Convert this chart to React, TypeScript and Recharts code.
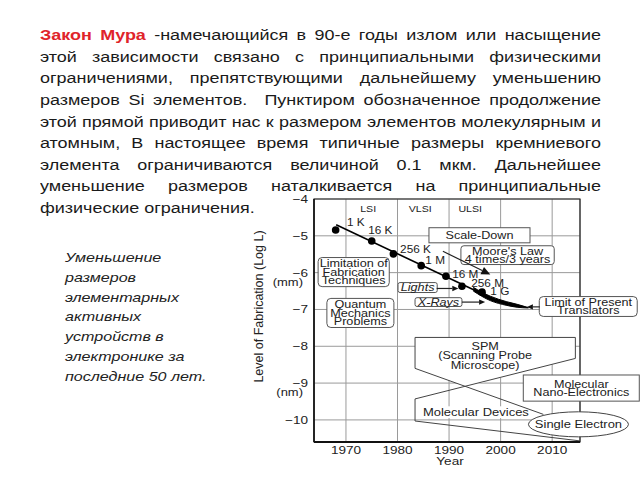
import React from 'react';
import {
  ComposedChart,
  Line,
  Area,
  Scatter,
  XAxis,
  YAxis,
  CartesianGrid,
  ReferenceArea,
  ReferenceLine,
  ReferenceDot,
} from 'recharts';

const FONT = '"Liberation Sans", Arial, sans-serif';
const SX = 1.18; // the slide is stretched sideways a bit

// memory generations on the curve
const chipNames = ['1 K', '16 K', '256 K', '1 M', '16 M', '256 M', '1 G'];
const chipYears = [1968, 1975, 1979.2, 1984.6, 1989.4, 1992.5, 1996.4];
const chipLevels = [-4.84, -5.14, -5.49, -5.81, -6.1, -6.37, -6.53];
const chipNameYears = [1970.2, 1974.3, 1980.5, 1985.4, 1990.6, 1994.3, 1998];
const chipNameLevels = [-4.65, -4.86, -5.38, -5.68, -6.05, -6.3, -6.51];

// integration eras
const eraNames = ['LSI', 'VLSI', 'ULSI'];
const eraYears = [1974.3, 1984.4, 1994.1];
const eraLevel = -4.27;

// trend line and the saturation wedge
const trendYears = [1968.1, 1996.5];
const trendLevels = [-4.7, -6.58];
const wedgeYears = [1994.7, 1998.0, 2001.2, 2003.2, 2005.4];
const wedgeLow = [-6.5, -6.76, -6.89, -6.94, -6.96];
const wedgeHigh = [-6.4, -6.64, -6.79, -6.86, -6.95];

// SPM / molecular devices outline
const outlineYears = [1983.4, 1983.4, 2014.5, 2014.5, 1983.4, 1983.4, 2015.4];
const outlineLevels = [-8.6, -7.76, -7.76, -8.33, -9.43, -10.03, -10.57];
const crossYears = [1983.4, 2008.3];
const crossLevels = [-8.6, -9.85];
const spmYears = [1983.4, 1993.4, 2014.5];
const spmLow = [-8.6, -9.1, -8.33];
const spmHigh = [-7.76, -7.76, -7.76];

const xTicks = [1970, 1980, 1990, 2000, 2010];
const yTicks = [-10, -9, -8, -7, -6, -5, -4];

type Box = {
  x1: number; x2: number; y1: number; y2: number;
  lines: string[];
  kind?: 'rect' | 'ellipse' | 'text' | 'plain';
  r?: number; italic?: boolean; size?: number; step?: number;
};

const boxes: Box[] = [
  { x1: 1986.1, x2: 2005.7, y1: -5.19, y2: -4.78, lines: ['Scale-Down'] },
  { x1: 1992.3, x2: 2010.4, y1: -5.78, y2: -5.27, lines: ["Moore's Law", '4 times/3 years'], r: 3 },
  { x1: 1964.6, x2: 1978.4, y1: -6.38, y2: -5.59, lines: ['Limitation of', 'Fabrication', 'Techniques'], r: 4 },
  { x1: 1966.3, x2: 1979.3, y1: -7.49, y2: -6.7, lines: ['Quantum', 'Mechanics', 'Problems'], r: 4 },
  { x1: 1980.1, x2: 1987.7, y1: -6.54, y2: -6.27, lines: ['Lights'], italic: true, r: 2 },
  { x1: 1983.4, x2: 1992.5, y1: -6.92, y2: -6.68, lines: ['X-Rays'], italic: true, r: 2 },
  { x1: 2007.5, x2: 2026.5, y1: -7.19, y2: -6.65, lines: ['Limit of Present', 'Translators'], r: 4 },
  { x1: 2004.4, x2: 2026.9, y1: -9.49, y2: -8.78, lines: ['Molecular', 'Nano-Electronics'] },
  { x1: 2005.4, x2: 2024.8, y1: -10.46, y2: -9.78, lines: ['Single Electron'], kind: 'ellipse', size: 11 },
  { x1: 1990, x2: 2004, y1: -8.5, y2: -8.0, lines: ['SPM', '(Scanning Probe', 'Microscope)'], kind: 'plain', step: 9.6 },
  { x1: 1985.2, x2: 2005.2, y1: -9.95, y2: -9.63, lines: ['Molecular Devices'], kind: 'text', size: 11 },
];

const arrows = [
  { from: [1988.8, -5.42], to: [1998.0, -6.05], head: 9 },
  { from: [1987.6, -6.43], to: [1991.8, -6.43], head: 6 },
  { from: [1992.5, -6.8], to: [1997.0, -6.8], head: 6 },
  { from: [2007.6, -6.93], to: [2005.1, -6.93], head: 6 },
];

const paragraph = [
  'этой зависимости связано с принципиальными физическими',
  'ограничениями, препятствующими дальнейшему уменьшению',
  'размеров Si элементов.  Пунктиром обозначенное продолжение',
  'этой прямой приводит нас к размером элементов молекулярным и',
  'атомным, В настоящее время типичные размеры кремниевого',
  'элемента ограничиваются величиной 0.1 мкм. Дальнейшее',
  'уменьшение размеров наталкивается на принципиальные',
  'физические ограничения.',
];
const sideNote = [
  'Уменьшение',
  'размеров',
  'элементарных',
  'активных',
  'устройств в',
  'электронике за',
  'последние 50 лет.',
];

const chipData = chipYears.map((x, i) => ({ x, y: chipLevels[i] }));
const chipNameData = chipNameYears.map((x, i) => ({ x, y: chipNameLevels[i], name: chipNames[i] }));
const eraData = eraYears.map((x, i) => ({ x, y: eraLevel, name: eraNames[i] }));
const trendData = trendYears.map((x, i) => ({ x, y: trendLevels[i] }));
const wedgeData = wedgeYears.map((x, i) => ({ x, lo: wedgeLow[i], hi: wedgeHigh[i] }));
const outlineData = outlineYears.map((x, i) => ({ x, y: outlineLevels[i] }));
const crossData = crossYears.map((x, i) => ({ x, y: crossLevels[i] }));
const spmData = spmYears.map((x, i) => ({ x, lo: spmLow[i], hi: spmHigh[i] }));

// stretched svg text, centred on y
const STxt = ({ x, y, lines, size = 10.7, step, anchor = 'middle', italic = false, color = '#222' }: any) => {
  const st = step ?? 8.4;
  const top = y - ((lines.length - 1) * st) / 2;
  return (
    <g transform={`translate(${x},${top}) scale(${SX},1)`}>
      {lines.map((t: string, i: number) => (
        <text
          key={i}
          x={0}
          y={i * st}
          dy={size * 0.35}
          textAnchor={anchor}
          fontSize={size}
          fontFamily={FONT}
          fontStyle={italic ? 'italic' : 'normal'}
          fill={color}
        >
          {t}
        </text>
      ))}
    </g>
  );
};

const BoxShape = ({ x, y, width, height, box }: any) => {
  const cx = x + width / 2;
  const cy = y + height / 2;
  let frame = null;
  if (box.kind === 'ellipse') {
    frame = <ellipse cx={cx} cy={cy} rx={width / 2} ry={height / 2} fill="#fff" stroke="#444" />;
  } else if (box.kind === 'text') {
    frame = <rect x={x} y={y} width={width} height={height} fill="#fff" />;
  } else if (box.kind !== 'plain') {
    frame = <rect x={x} y={y} width={width} height={height} rx={box.r ?? 0} fill="#fff" stroke="#555" />;
  }
  return (
    <g>
      {frame}
      <STxt x={cx} y={cy} lines={box.lines} italic={box.italic} size={box.size ?? 10.7} step={box.step} />
    </g>
  );
};

const ArrowShape = ({ x1, y1, x2, y2, head }: any) => {
  const a = Math.atan2(y2 - y1, x2 - x1);
  const c = Math.cos(a);
  const s = Math.sin(a);
  const w = head * 0.45;
  const bx = x2 - c * head;
  const by = y2 - s * head;
  const pts = `${x2},${y2} ${bx - s * w},${by + c * w} ${bx + s * w},${by - c * w}`;
  return (
    <g>
      <line x1={x1} y1={y1} x2={bx} y2={by} stroke="#222" strokeWidth={1.2} />
      <polygon points={pts} fill="#111" />
    </g>
  );
};

const XTick = ({ x, y, payload }: any) => (
  <STxt x={x} y={y} lines={[String(payload.value)]} size={11.5} />
);

const YTick = ({ x, y, payload }: any) => (
  <STxt x={x + 2} y={y} lines={['\u2212' + Math.abs(payload.value)]} size={11.5} anchor="end" />
);

const App = () => {
  return (
    <div style={{ position: 'absolute', left: 0, top: 0, width: 640, height: 480, background: '#fff' }}>
      <ComposedChart width={640} height={480} margin={{ top: 199, right: 60, bottom: 8, left: 254 }}>
        <CartesianGrid stroke="#9a9a9a" strokeWidth={1} />
        <XAxis
          type="number"
          dataKey="x"
          domain={[1963.8, 2015.4]}
          ticks={xTicks}
          allowDataOverflow
          tickLine={false}
          axisLine={{ stroke: '#111', strokeWidth: 2 }}
          tick={XTick}
          height={30}
          label={{
            content: (p: any) => (
              <STxt x={p.viewBox.x + p.viewBox.width / 2 + 3} y={p.viewBox.y + 19} lines={['Year']} size={11.5} />
            ),
          }}
        />
        <YAxis
          type="number"
          dataKey="y"
          domain={[-10.6, -4]}
          ticks={yTicks}
          allowDataOverflow
          tickLine={false}
          axisLine={{ stroke: '#111', strokeWidth: 1.5 }}
          tick={YTick}
          width={60}
          label={{
            content: (p: any) => (
              <text
                transform={`translate(${p.viewBox.x + 8.5},${p.viewBox.y + p.viewBox.height / 2 - 14}) rotate(-90)`}
                textAnchor="middle"
                fontSize={12.5}
                fontFamily={FONT}
                fill="#222"
              >
                Level of Fabrication (Log L)
              </text>
            ),
          }}
        />

        <ReferenceArea x1={1963.8} x2={2015.4} y1={-10.6} y2={-4} ifOverflow="visible" fill="none" stroke="#222" strokeWidth={1.2} />

        <Area
          data={spmData}
          dataKey={(d: any) => [d.lo, d.hi]}
          type="linear"
          fill="#fff"
          fillOpacity={1}
          stroke="none"
          isAnimationActive={false}
        />
        <Line data={outlineData} dataKey="y" type="linear" stroke="#444" strokeWidth={1} dot={false} isAnimationActive={false} />
        <Line data={crossData} dataKey="y" type="linear" stroke="#444" strokeWidth={1} dot={false} isAnimationActive={false} />

        {boxes.map((b, i) => (
          <ReferenceArea
            key={i}
            x1={b.x1}
            x2={b.x2}
            y1={b.y1}
            y2={b.y2}
            ifOverflow="visible"
            shape={(p: any) => <BoxShape {...p} box={b} />}
          />
        ))}

        <Line data={trendData} dataKey="y" type="linear" stroke="#000" strokeWidth={1.6} dot={false} isAnimationActive={false} />
        <Area
          data={wedgeData}
          dataKey={(d: any) => [d.lo, d.hi]}
          type="monotone"
          fill="#000"
          fillOpacity={1}
          stroke="#000"
          strokeWidth={1}
          isAnimationActive={false}
        />

        {arrows.map((a, i) => (
          <ReferenceLine
            key={i}
            segment={[{ x: a.from[0], y: a.from[1] }, { x: a.to[0], y: a.to[1] }]}
            ifOverflow="visible"
            shape={(p: any) => <ArrowShape {...p} head={a.head} />}
          />
        ))}

        <ReferenceDot x={1963.8} y={-6.27} r={0} ifOverflow="visible"
          shape={(p: any) => <STxt x={p.cx - 11} y={p.cy} lines={['(mm)']} size={11} anchor="end" />} />
        <ReferenceDot x={1963.8} y={-9.24} r={0} ifOverflow="visible"
          shape={(p: any) => <STxt x={p.cx - 11} y={p.cy} lines={['(nm)']} size={11} anchor="end" />} />

        <Scatter
          data={chipData}
          dataKey="y"
          isAnimationActive={false}
          shape={(p: any) => <circle cx={p.cx} cy={p.cy} r={3.8} fill="#000" />}
        />
        <Scatter
          data={chipNameData}
          dataKey="y"
          isAnimationActive={false}
          shape={(p: any) => <STxt x={p.cx} y={p.cy} lines={[p.payload.name]} size={10} anchor="start" />}
        />
        <Scatter
          data={eraData}
          dataKey="y"
          isAnimationActive={false}
          shape={(p: any) => <STxt x={p.cx} y={p.cy} lines={[p.payload.name]} size={9} />}
        />
      </ComposedChart>

      <div
        style={{
          position: 'absolute',
          left: 40,
          top: 24.2,
          width: 561 / 1.19,
          transform: 'scaleX(1.19)',
          transformOrigin: '0 0',
          fontFamily: FONT,
          fontSize: 15.1,
          lineHeight: '21.6px',
          color: '#1a1a1a',
        }}
      >
        <div style={{ textAlign: 'justify', textAlignLast: 'justify', whiteSpace: 'pre' }}>
          <span style={{ color: '#e0242a', fontWeight: 'bold' }}>Закон Мура</span> -намечающийся в 90-е годы излом или насыщение
        </div>
        {paragraph.map((l, i) => (
          <div
            key={i}
            style={{
              textAlign: i < paragraph.length - 1 ? 'justify' : 'left',
              textAlignLast: i < paragraph.length - 1 ? 'justify' : 'left',
              whiteSpace: 'pre',
            }}
          >
            {l}
          </div>
        ))}
      </div>

      <div
        style={{
          position: 'absolute',
          left: 65,
          top: 248.1,
          transform: 'scaleX(1.19)',
          transformOrigin: '0 0',
          fontFamily: FONT,
          fontStyle: 'italic',
          fontSize: 13.5,
          lineHeight: '19.8px',
          color: '#222',
        }}
      >
        {sideNote.map((l, i) => (
          <div key={i}>{l}</div>
        ))}
      </div>
    </div>
  );
};

export default App;
